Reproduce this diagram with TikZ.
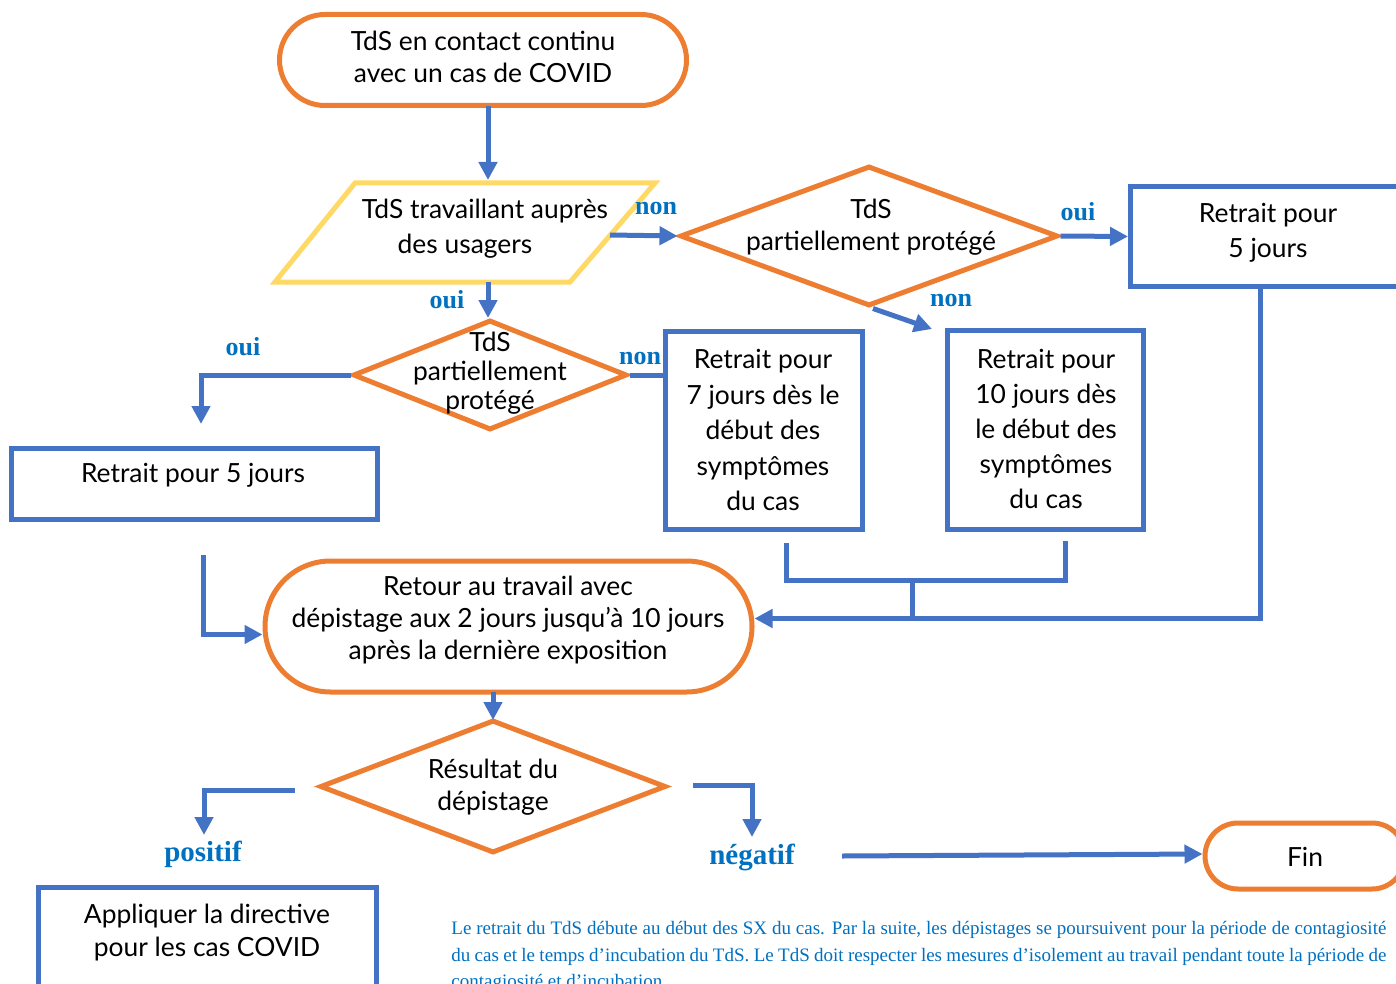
\documentclass[tikz,border=0pt]{standalone}
\usepackage{fontspec}
\setmainfont{Lato}
\newfontfamily\serif{Liberation Serif}
\usetikzlibrary{shapes.geometric,shapes.misc,arrows.meta}
\definecolor{cblue}{HTML}{4472C4}
\definecolor{corange}{HTML}{ED7D31}
\definecolor{cyellow}{HTML}{FFD966}
\definecolor{clabel}{HTML}{0070C0}
\begin{document}
\begin{tikzpicture}[x=0.5pt,y=-0.5pt,
 arr/.style={draw=cblue,line width=2.5pt,-{Triangle[length=9pt,width=9pt]}},
 lin/.style={draw=cblue,line width=2.5pt},
 term/.style={rounded rectangle,draw=corange,line width=2.5pt,inner sep=0pt},
 dia/.style={diamond,draw=corange,line width=2.5pt,inner sep=0pt},
 box/.style={rectangle,draw=cblue,line width=2.5pt,inner sep=0pt},
 txt/.style={align=center,font=\fontsize{13.2}{16}\selectfont,inner sep=0pt},
 lab/.style={text=clabel,font=\serif\bfseries\fontsize{13}{13}\selectfont,inner sep=0pt},
 biglab/.style={lab,font=\serif\bfseries\fontsize{14.5}{14.5}\selectfont},
]
\useasboundingbox (0,0) rectangle (1396,984);
\clip (0,0) rectangle (1396,984);
% shapes
\node[term,minimum width=203.5pt,minimum height=45.5pt] (t1) at (483,60) {};
\draw[draw=cyellow,line width=2.5pt] (355,183) -- (655,183) -- (570,282) -- (275,282) -- cycle;
\node[dia,minimum width=189pt,minimum height=70pt] (d1) at (869,236) {};
\node[box,minimum width=139.5pt,minimum height=49.5pt] (b1) at (1270,236.5) {};
\node[box,minimum width=98pt,minimum height=99.5pt] (b10) at (1045,429.5) {};
\node[box,minimum width=98.5pt,minimum height=99pt] (b7) at (763.5,430) {};
\node[dia,minimum width=137pt,minimum height=55pt] (d2) at (490,375) {};
\node[box,minimum width=183pt,minimum height=35.5pt] (b5) at (194,483.5) {};
\node[term,minimum width=243.5pt,minimum height=65.5pt] (s2) at (508.5,626.5) {};
\node[dia,minimum width=173pt,minimum height=66.5pt] (d3) at (493,786.5) {};
\node[term,minimum width=100pt,minimum height=33pt] (fin) at (1305,856) {};
\node[box,minimum width=169pt,minimum height=55pt] (bd) at (207,942) {};
% texts
\node[txt] (t1t) at (483,57) {TdS en contact continu\\avec un cas de COVID};
\node[txt,font=\fontsize{13.2}{17.5}\selectfont] (p) at (465,229) {\hspace*{20pt}TdS travaillant auprès\\des usagers};
\node[txt] (d1t) at (871,227) {TdS\\partiellement protégé};
\node[txt,font=\fontsize{13.2}{17.5}\selectfont] (b1t) at (1268,233) {Retrait pour\\5 jours};
\node[txt,font=\fontsize{13.2}{14.5}\selectfont] (d2t) at (490,373) {TdS\\partiellement\\protégé};
\node[txt,font=\fontsize{13.2}{17.75}\selectfont] (b7t) at (763,430) {Retrait pour\\7 jours dès le\\début des\\symptômes\\du cas};
\node[txt,font=\fontsize{13.2}{17.5}\selectfont] (b10t) at (1046,429) {Retrait pour\\10 jours dès\\le début des\\symptômes\\du cas};
\node[txt] (b5t) at (193,475) {Retrait pour 5 jours};
\node[txt] (s2t) at (508,620) {Retour au travail avec\\dépistage aux 2 jours jusqu’à 10 jours\\après la dernière exposition};
\node[txt] (d3t) at (493,787) {Résultat du\\dépistage};
\node[txt] (fint) at (1305,857) {Fin};
\node[txt,font=\fontsize{13.2}{16.5}\selectfont] (bdt) at (207,933) {Appliquer la directive\\pour les cas COVID};
\node[anchor=north west,inner sep=0pt,text width=467.5pt,align=justify,text=clabel,font=\serif\fontsize{9.5}{13.25}\selectfont] (note) at (451,921) {Le retrait du TdS débute au début des SX du cas. Par la suite, les dépistages se poursuivent pour la période de contagiosité du cas et le temps d’incubation du TdS. Le TdS doit respecter les mesures d’isolement au travail pendant toute la période de contagiosité et d’incubation.};
% labels
\node[lab] (l1) at (656,209) {non};
\node[lab] (l2) at (1078,212) {oui};
\node[lab] (l3) at (951,300) {non};
\node[lab] (l4) at (447,300) {oui};
\node[lab] (l5) at (243,347) {oui};
\node[lab] (l6) at (640,358) {non};
\node[biglab] (l7) at (203,854) {positif};
\node[biglab] (l8) at (752,857) {négatif};
% coordinates
\coordinate (t1s) at (488,106);
\coordinate (pT) at (488,180);
\coordinate (pR) at (610,235);
\coordinate (pB) at (488,282);
\coordinate (d2N) at (488,318);
\coordinate (n10) at (932,329);
\coordinate (c5) at (201,424);
\coordinate (c6) at (203,555);
\coordinate (c7) at (786,543);
\coordinate (c10) at (1065,541);
\coordinate (cm) at (912,580);
\coordinate (cm2) at (912,618);
\coordinate (s2b) at (493,692);
\coordinate (d3n) at (493,720);
\coordinate (cpl) at (295,790);
\coordinate (cpos) at (204,835);
\coordinate (cnr) at (693,785);
\coordinate (cneg) at (752,837);
\coordinate (cf) at (842,856);
% connectors
\draw[arr] (t1s) -- (pT);
\draw[arr] (pR) -- (d1.west);
\draw[arr] (d1.east) -- (b1.west);
\draw[arr] ([xshift=2pt]d1.south) -- (n10);
\draw[arr] (pB) -- (d2N);
\draw[arr] (d2.west) -| (c5);
\draw[lin] (d2.east) -- (d2.east -| b7.west);
\draw[arr] (c6) |- ([yshift=-4pt]s2.west);
\draw[lin] (c7) |- (cm) -| (c10);
\draw[lin] (cm) -- (cm2);
\draw[arr] ([xshift=-5pt]b1.south) |- ([yshift=4pt]s2.east);
\draw[arr] (s2b) -- (d3n);
\draw[arr] (cpl) -| (cpos);
\draw[arr] (cnr) -| (cneg);
\draw[arr] (cf) -- ([yshift=1pt]fin.west);
\end{tikzpicture}
\end{document}
